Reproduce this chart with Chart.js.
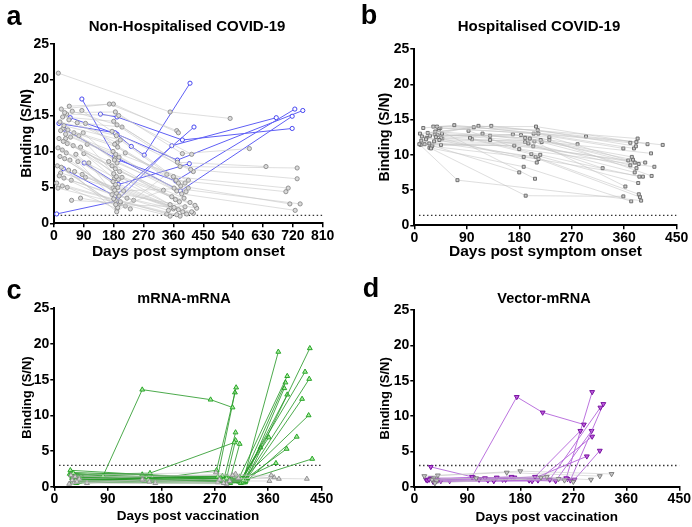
<!DOCTYPE html>
<html>
<head>
<meta charset="utf-8">
<script src="https://cdn.jsdelivr.net/npm/chart.js@4.4.1/dist/chart.umd.min.js"></script>
<style>
  body { margin: 0; background: #fff; }
  #wrap { position: relative; width: 692px; height: 527px; overflow: hidden; font-family: 'Liberation Sans', Arial, sans-serif; }
  canvas { position: absolute; left: 0; top: 0; }
  .lbl { position: absolute; font-weight: bold; color: #000; white-space: nowrap; transform: translate(-50%, -50%); }
</style>
</head>
<body>
<div id="wrap">
  <canvas id="chartA" width="692" height="527"></canvas>
  <canvas id="chartB" width="692" height="527"></canvas>
  <canvas id="chartC" width="692" height="527"></canvas>
  <canvas id="chartD" width="692" height="527"></canvas>
  <div class="lbl" style="left:14px;top:16px;font-size:27px">a</div>
  <div class="lbl" style="left:369px;top:15px;font-size:27px">b</div>
  <div class="lbl" style="left:14px;top:290px;font-size:27px">c</div>
  <div class="lbl" style="left:371px;top:288px;font-size:27px">d</div>
  <div class="lbl" style="left:187px;top:25px;font-size:15px">Non-Hospitalised COVID-19</div>
  <div class="lbl" style="left:539px;top:25px;font-size:15px">Hospitalised COVID-19</div>
  <div class="lbl" style="left:184px;top:298px;font-size:14.5px">mRNA-mRNA</div>
  <div class="lbl" style="left:544px;top:298px;font-size:14.5px">Vector-mRNA</div>
</div>
<script>
'use strict';

// axis ticks
let yTicks = [0, 5, 10, 15, 20, 25];
let xTicksLong = [0, 90, 180, 270, 360, 450, 540, 630, 720, 810];
let xTicksShort = [0, 90, 180, 270, 360, 450];

// positivity cut-offs (a, b, c, d)
let cutoffs = [1.1, 1.4, 3, 3];

// a: non-hospitalised, each subject = [day, S/N] visits
let aGreySubjects = [
  [[13, 20.9], [350, 15.5], [531, 14.6]],
  [[46, 16.3], [179, 16.6], [375, 12.6]],
  [[22, 15.9], [167, 16.6], [370, 12.9]],
  [[32, 15.4], [185, 15.5], [387, 9.7], [589, 10.4]],
  [[38, 15.2], [195, 15.0], [415, 9.6]],
  [[26, 14.8], [180, 14.2], [372, 8.5], [639, 7.9]],
  [[55, 15.6], [190, 13.7], [380, 7.9], [733, 7.7]],
  [[70, 14.0], [205, 13.4], [412, 7.5], [733, 6.2]],
  [[84, 15.7], [175, 12.8], [420, 7.2]],
  [[18, 14.1], [188, 12.2], [360, 6.5], [706, 4.9]],
  [[30, 13.6], [200, 11.6], [368, 6.0], [699, 4.4]],
  [[42, 13.0], [183, 11.0], [375, 5.6]],
  [[60, 12.6], [192, 10.6], [382, 5.2], [711, 2.7]],
  [[95, 13.9], [215, 9.8], [395, 5.6]],
  [[20, 12.9], [178, 10.0], [405, 6.0]],
  [[35, 12.4], [186, 9.6], [362, 4.9], [742, 2.7]],
  [[50, 12.0], [196, 9.2], [370, 4.5]],
  [[75, 12.2], [182, 8.8], [385, 4.1], [727, 1.8]],
  [[88, 12.6], [190, 8.4], [398, 4.4]],
  [[15, 11.8], [165, 8.6], [355, 3.7]],
  [[28, 11.4], [175, 8.0], [366, 3.3]],
  [[40, 11.1], [185, 7.6], [378, 3.0]],
  [[58, 10.8], [198, 7.2], [392, 3.5]],
  [[80, 10.6], [180, 6.9], [410, 2.9]],
  [[100, 11.0], [188, 6.5], [425, 2.5]],
  [[12, 10.5], [194, 6.1], [350, 2.6]],
  [[25, 10.2], [178, 5.8], [362, 2.2]],
  [[37, 9.8], [185, 5.4], [375, 1.9]],
  [[66, 9.6], [192, 5.0], [388, 1.6]],
  [[90, 9.7], [205, 6.4], [400, 1.3]],
  [[18, 9.3], [183, 4.6], [415, 1.6]],
  [[32, 9.0], [188, 4.2], [430, 2.1]],
  [[48, 8.8], [196, 3.8], [345, 1.8]],
  [[72, 8.6], [180, 3.4], [370, 1.2]],
  [[105, 8.4], [200, 3.0], [380, 1.0]],
  [[10, 8.0], [186, 2.6], [395, 2.3]],
  [[22, 7.8], [192, 2.2], [330, 4.6]],
  [[44, 7.4], [189, 1.6], [340, 6.8]],
  [[62, 7.2], [210, 4.5], [405, 4.9]],
  [[85, 6.8], [220, 3.5], [420, 1.4]],
  [[16, 6.6], [230, 2.0]],
  [[30, 6.3], [240, 3.2]],
  [[52, 6.0], [175, 4.0]],
  [[95, 6.4], [360, 2.0]],
  [[8, 5.6], [340, 1.3]],
  [[25, 5.2], [185, 3.2]],
  [[40, 5.0], [190, 2.0]],
  [[12, 4.9], [350, 1.0]],
  [[53, 3.2], [200, 2.8]],
  [[80, 3.5], [215, 2.4]],
  [[20, 7.0], [178, 4.9]],
  [[35, 11.8], [182, 6.2]],
  [[27, 13.2], [184, 9.0]],
  [[45, 14.4], [190, 11.2]]
];
let aBlueSubjects = [
  [[8, 1.3], [189, 3.1], [355, 10.8], [670, 14.7]],
  [[84, 17.3], [183, 9.3], [381, 4.5], [718, 14.9]],
  [[140, 15.2], [190, 14.8], [387, 11.6], [718, 13.2]],
  [[15, 13.9], [184, 12.6], [233, 10.7], [272, 9.5], [410, 19.5]],
  [[49, 14.7], [190, 12.4], [372, 8.8], [750, 15.7]],
  [[31, 13.1], [194, 8.8], [367, 5.9], [726, 15.9]],
  [[28, 7.6], [184, 3.8], [422, 13.4]],
  [[91, 8.4], [194, 5.4], [408, 8.3]]
];

// b: hospitalised
let bGreySubjects = [
  [[8.6, 11.5], [74, 6.4], [389, 3.5]],
  [[28.6, 10.9], [191, 4.2], [358.5, 4.1]],
  [[15.4, 13.8], [68.6, 14.2], [370.5, 11.7]],
  [[13, 12.6], [110, 14.1], [383, 12.3]],
  [[9.7, 13.0], [102, 13.9], [380.8, 11.8]],
  [[23, 13.1], [132, 14.1], [294.5, 12.6], [426, 11.4]],
  [[32.6, 14.0], [208.7, 14.0], [400, 11.5]],
  [[38.9, 14.0], [211.6, 13.5], [380, 11.2]],
  [[41.7, 13.8], [212.7, 13.0], [376.8, 10.9]],
  [[44.6, 13.8], [204.7, 13.0], [358.5, 10.9]],
  [[36, 13.3], [198, 12.3], [373, 9.7]],
  [[47.5, 13.0], [190, 12.4], [375, 9.3]],
  [[37, 12.5], [117, 13.0], [231.6, 12.5], [367, 9.2]],
  [[40, 12.8], [130, 12.7], [406, 10.2]],
  [[43, 12.1], [130, 12.1], [378, 8.9]],
  [[34, 11.9], [216.7, 12.1], [384.8, 8.7]],
  [[25.7, 11.6], [218.4, 11.8], [370.5, 8.5]],
  [[45.7, 11.4], [195.6, 11.6], [381, 8.1]],
  [[11, 11.4], [171.5, 11.3], [396, 8.9]],
  [[17.7, 11.5], [204, 11.2], [378, 7.5]],
  [[93, 13.4], [180, 10.8], [411.7, 8.3]],
  [[95.5, 12.4], [216, 10.0], [386, 6.9]],
  [[99, 12.2], [200.7, 10.1], [384, 6.0]],
  [[20, 12.2], [169, 12.9], [280, 11.5]],
  [[27, 12.7], [183, 12.8], [231.6, 12.1], [407, 7.0]],
  [[46, 12.4], [190, 11.8], [323, 8.1]],
  [[30, 11.2], [187.6, 9.7], [392, 6.9]],
  [[35, 12.9], [206, 11.9], [362, 5.5]],
  [[12, 12.0], [208, 9.7], [385, 4.4]],
  [[21, 12.4], [213, 9.4], [387, 4.0]],
  [[26, 11.0], [187.6, 8.3], [372, 3.4]],
  [[31, 11.3], [180, 7.5]],
  [[42, 13.5], [207, 6.6]],
  [[48, 12.3], [210, 8.9]]
];

// c: mRNA-mRNA, days post vaccination
let cGreySubjects = [
  [[25, 0.4], [148, 1.0], [285, 0.5]],
  [[30, 0.9], [160, 0.7], [295, 0.8], [362, 0.8]],
  [[35, 1.4], [300, 1.6], [365, 1.6]],
  [[38, 0.7], [150, 0.9], [278, 1.0], [370, 1.3]],
  [[42, 1.1], [305, 1.8], [378, 1.1]],
  [[28, 1.6], [272, 2.0], [310, 1.2], [425, 1.1]],
  [[33, 0.6], [290, 0.4]],
  [[55, 0.5], [170, 0.5], [275, 0.6]]
];
let cGreenSubjects = [
  [[32, 1.9], [82, 1.5], [148, 13.6], [263, 12.2], [300, 11.1]],
  [[30, 1.2], [158, 1.0], [273, 2.3], [306, 13.9]],
  [[35, 0.9], [275, 1.4], [304, 13.2]],
  [[28, 1.7], [161, 1.9], [303, 6.2]],
  [[40, 1.0], [285, 0.9], [305, 7.6]],
  [[30, 0.6], [155, 1.2], [290, 1.2], [305, 6.5]],
  [[45, 1.1], [295, 0.8], [312, 6.0]],
  [[30, 1.4], [285, 0.7], [318, 0.9], [377, 18.9]],
  [[33, 0.8], [150, 0.9], [290, 0.6], [322, 0.8], [430, 19.4]],
  [[27, 2.3], [295, 1.0], [315, 1.1], [422, 16.1]],
  [[38, 1.3], [280, 1.2], [318, 0.6], [429, 15.1]],
  [[42, 0.7], [152, 0.8], [288, 0.9], [312, 1.4], [392, 15.5]],
  [[29, 2.0], [292, 1.3], [316, 1.0], [389, 14.6]],
  [[36, 1.5], [165, 1.3], [298, 1.1], [320, 0.7], [387, 13.8]],
  [[31, 1.1], [286, 0.8], [314, 0.5], [392, 12.9]],
  [[44, 0.9], [294, 0.7], [325, 1.2], [417, 12.3]],
  [[26, 1.8], [155, 1.4], [283, 1.5], [319, 1.3], [428, 10.0]],
  [[39, 0.6], [296, 0.5], [321, 0.6], [408, 7.0]],
  [[34, 1.6], [148, 1.7], [281, 0.8], [317, 0.8], [391, 5.3]],
  [[48, 1.2], [289, 1.4], [313, 0.9], [373, 3.3]],
  [[37, 0.5], [164, 0.8], [297, 0.9], [324, 1.0], [434, 3.9]],
  [[41, 1.4], [291, 0.6], [311, 0.7], [361, 6.9]],
  [[46, 1.0], [159, 1.0], [287, 1.1], [315, 0.8], [347, 5.5]]
];

// d: vector-mRNA
let dGreySubjects = [
  [[17, 1.5], [157, 2.0], [315, 1.5]],
  [[40, 1.6], [180, 2.2], [335, 1.8]],
  [[35, 0.5], [215, 1.3], [300, 1.0]],
  [[30, 1.0], [105, 1.2], [225, 1.4], [270, 0.7]],
  [[38, 0.8], [245, 1.1]],
  [[33, 1.2], [255, 0.9]]
];
let dPurpleSubjects = [
  [[28, 2.8], [98, 1.4], [174, 12.7], [218, 10.5], [288, 8.8]],
  [[25, 1.0], [110, 1.0], [205, 1.4], [282, 7.9]],
  [[40, 0.9], [135, 0.8], [230, 1.0], [316, 11.2]],
  [[22, 0.9], [120, 1.2], [258, 1.2], [302, 13.4]],
  [[30, 1.1], [140, 1.3], [265, 0.9], [321, 11.7]],
  [[45, 0.8], [155, 1.0], [240, 0.8], [301, 7.9]],
  [[32, 0.7], [125, 0.9], [210, 0.9], [302, 7.1]],
  [[38, 1.0], [165, 1.4], [195, 0.9], [293, 4.3]],
  [[28, 1.2], [170, 1.3], [272, 1.0], [315, 5.1]],
  [[60, 0.8], [200, 0.8], [260, 1.1]],
  [[20, 1.0], [100, 1.3], [150, 1.0]]
];

const FONT = "'Liberation Sans', Arial, sans-serif";

function toPoints(subject) {
  return subject.map(p => ({ x: p[0], y: p[1] }));
}

function subjectSets(subjects, style) {
  return subjects.map(s => Object.assign({ data: toPoints(s), showLine: true }, style));
}

function cutoffSet(value, xMax) {
  return {
    data: [{ x: 8, y: value }, { x: xMax, y: value }],
    showLine: true,
    borderColor: '#333',
    borderWidth: 1.3,
    borderDash: [1.5, 2.5],
    pointRadius: 0
  };
}

// box = plot area in page pixels, sz = font sizes
function makeChart(id, box, xTicks, xTitle, datasets, sz) {
  let yW = 45;
  let xH = 40;
  let tickFont = { family: FONT, size: sz.tick, weight: 'bold' };
  new Chart(document.getElementById(id), {
    type: 'scatter',
    data: { datasets: datasets },
    options: {
      responsive: false,
      animation: false,
      layout: {
        padding: { left: box.L - yW, right: 692 - box.R, top: box.T, bottom: 527 - box.B - xH }
      },
      plugins: { legend: { display: false }, tooltip: { enabled: false } },
      scales: {
        x: {
          type: 'linear',
          min: xTicks[0],
          max: xTicks[xTicks.length - 1],
          afterBuildTicks: s => { s.ticks = xTicks.map(v => ({ value: v })); },
          afterFit: s => { s.height = xH; },
          ticks: { font: tickFont, color: '#000', padding: 0, maxRotation: 0, autoSkip: false },
          grid: { drawOnChartArea: false, tickLength: 4, color: '#000', lineWidth: 1.5 },
          border: { color: '#000', width: 2 },
          title: {
            display: true, text: xTitle, color: '#000',
            font: { family: FONT, size: sz.xTitle, weight: 'bold' },
            padding: { top: 0, bottom: sz.xPad }
          }
        },
        y: {
          min: 0,
          max: 25,
          afterBuildTicks: s => { s.ticks = yTicks.map(v => ({ value: v })); },
          afterFit: s => { s.width = yW; },
          ticks: { font: tickFont, color: '#000', padding: 1 },
          grid: { drawOnChartArea: false, tickLength: 4, color: '#000', lineWidth: 1.5 },
          border: { color: '#000', width: 2 },
          title: {
            display: true, text: 'Binding (S/N)', color: '#000',
            font: { family: FONT, size: sz.yTitle, weight: 'bold' },
            padding: { top: sz.yPad, bottom: 0 }
          }
        }
      }
    }
  });
}

let greyLine = { borderColor: 'rgba(195,195,195,0.7)', borderWidth: 0.8 };

// panel a
makeChart('chartA', { L: 54, R: 322.7, T: 43.7, B: 223.3 }, xTicksLong, 'Days post symptom onset', [].concat(
  subjectSets(aGreySubjects, Object.assign({
    pointStyle: 'circle', pointRadius: 2.1, pointBorderWidth: 0.9,
    pointBackgroundColor: '#dadada', pointBorderColor: '#8a8a8a'
  }, greyLine)),
  subjectSets(aBlueSubjects, {
    borderColor: 'rgb(95,95,245)', borderWidth: 1,
    pointStyle: 'circle', pointRadius: 2.1, pointBorderWidth: 1,
    pointBackgroundColor: '#fff', pointBorderColor: 'rgb(70,70,240)'
  }),
  [cutoffSet(cutoffs[0], 810)]
), { tick: 14, xTitle: 15.5, yTitle: 14, xPad: 2, yPad: 9.6 });

// panel b
makeChart('chartB', { L: 414.3, R: 676.7, T: 49, B: 225.3 }, xTicksShort, 'Days post symptom onset', [].concat(
  subjectSets(bGreySubjects, Object.assign({
    pointStyle: 'rect', pointRadius: 2.1, pointBorderWidth: 1,
    pointBackgroundColor: '#cfcfcf', pointBorderColor: '#707070'
  }, greyLine)),
  [cutoffSet(cutoffs[1], 450)]
), { tick: 14, xTitle: 15.5, yTitle: 14, xPad: 4, yPad: 7.3 });

// panel c
makeChart('chartC', { L: 54.3, R: 321.7, T: 308.3, B: 486.7 }, xTicksShort, 'Days post vaccination', [].concat(
  subjectSets(cGreySubjects, Object.assign({
    pointStyle: 'triangle', pointRadius: 2.8, pointBorderWidth: 0.9,
    pointBackgroundColor: '#d5d5d5', pointBorderColor: '#8a8a8a'
  }, greyLine)),
  subjectSets(cGreenSubjects, {
    borderColor: 'rgba(45,155,45,0.85)', borderWidth: 1,
    pointStyle: 'triangle', pointRadius: 2.8, pointBorderWidth: 1,
    pointBackgroundColor: 'rgb(170,235,160)', pointBorderColor: 'rgb(40,165,40)'
  }),
  [cutoffSet(cutoffs[2], 450)]
), { tick: 14, xTitle: 13.5, yTitle: 13, xPad: 2.6, yPad: 9.9 });

// panel d
makeChart('chartD', { L: 414.3, R: 679.3, T: 310, B: 486.7 }, xTicksShort, 'Days post vaccination', [].concat(
  subjectSets(dGreySubjects, Object.assign({
    pointStyle: 'triangle', pointRotation: 180, pointRadius: 2.8, pointBorderWidth: 0.9,
    pointBackgroundColor: '#c8c8c8', pointBorderColor: '#777'
  }, greyLine)),
  subjectSets(dPurpleSubjects, {
    borderColor: 'rgba(180,100,218,0.9)', borderWidth: 1,
    pointStyle: 'triangle', pointRotation: 180, pointRadius: 2.8, pointBorderWidth: 1,
    pointBackgroundColor: 'rgb(190,90,220)', pointBorderColor: 'rgb(120,20,160)'
  }),
  [cutoffSet(cutoffs[3], 450)]
), { tick: 14, xTitle: 13.5, yTitle: 13, xPad: 1.6, yPad: 7.9 });
</script>
</body>
</html>
